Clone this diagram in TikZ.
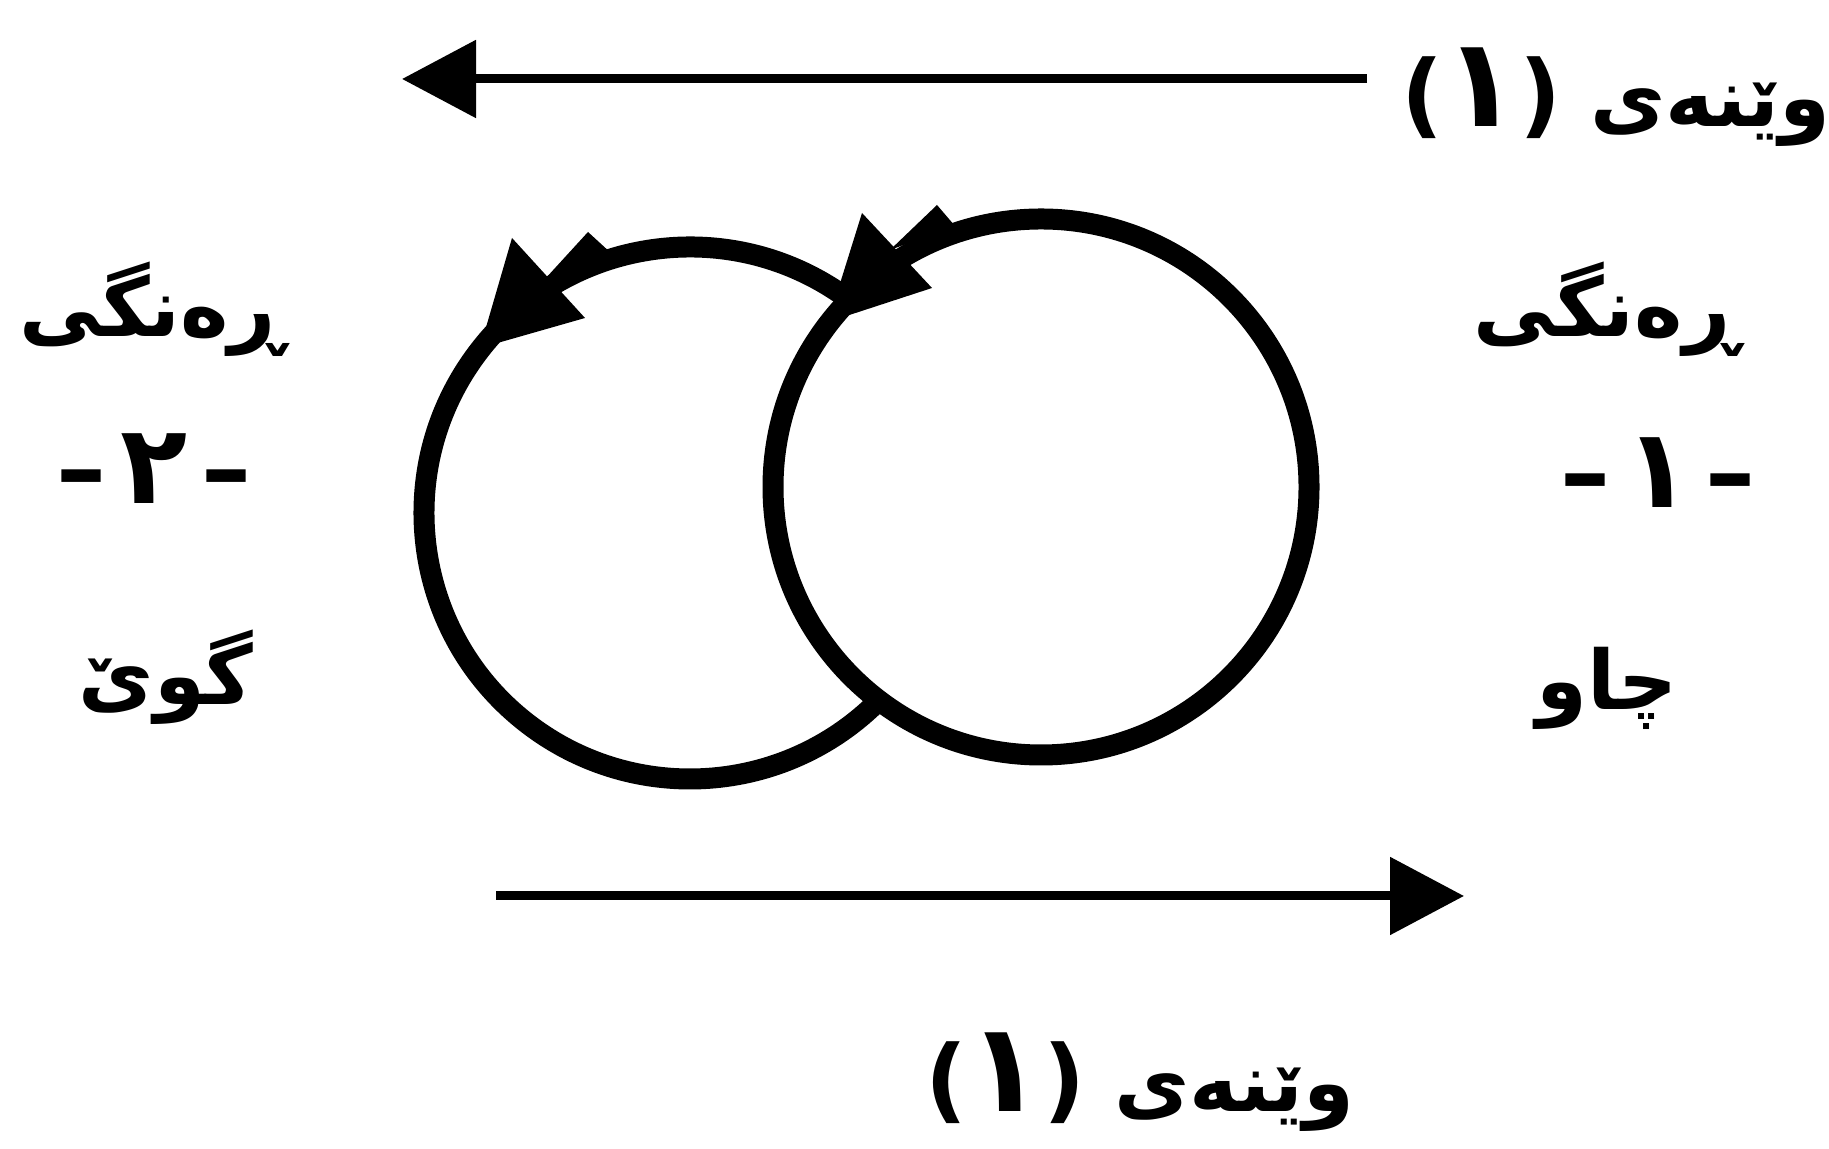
\documentclass[tikz,border=0pt]{standalone}
\usepackage{fontspec}
\usetikzlibrary{arrows.meta,calc}
\TeXXeTstate=1
\newfontfamily\kufont[Script=Arabic]{DejaVu Sans}
\newfontfamily\plainfont{DejaVu Sans}
\newcommand\kudig[1]{{\fontsize{62}{66}\selectfont #1}}
\newcommand\kunum[1]{{\fontsize{55}{60}\selectfont #1}}
\newcommand\kudash{{\plainfont\bfseries\fontsize{50}{56}\selectfont –}}
\newcommand\kuparen[1]{{\plainfont\bfseries\fontsize{46}{50}\selectfont #1}}
\begin{document}
\begin{tikzpicture}[x=0.5pt,y=0.5pt,
  ring/.style={line width=10.5pt,draw=black},
  flow/.style={line width=4.5pt,draw=black,-{Triangle[length=37pt,width=38pt]}},
  lbl/.style={font=\kufont\bfseries\fontsize{41}{48}\selectfont,inner sep=0pt},
  barb/.style={fill=black}]
\useasboundingbox[fill=white] (0,0) rectangle (1829,1149);
\coordinate (cL) at (690,636);
\coordinate (cR) at (1041,662);
% right ring
\draw[ring] (cR) circle[radius=268];
% left ring (open, hidden part inside the right ring)
\draw[ring] ($(cL)+(53:266)$) arc[start angle=53,end angle=315,radius=266];
% left arrowhead
\fill[barb] (512,911) -- (585,831) -- (480,801) -- cycle;
\fill[barb] (545,870) -- (588,917) -- (612,895) -- cycle;
% right arrowhead
\fill[barb] (862,936) -- (932,861) -- (828,827) -- cycle;
\fill[barb] (890,899) -- (937,944) -- (955,923) -- cycle;
% horizontal arrows
\coordinate (t1) at (1367,1070);
\coordinate (t2) at (402,1070);
\draw[flow] (t1) -- (t2);
\coordinate (b1) at (496,253);
\coordinate (b2) at (1464,253);
\draw[flow] (b1) -- (b2);
% labels
\node[lbl] (figtop) at (1616,1052) {\beginR وێنەی \beginL\kuparen{(}\kudig{١}\kuparen{)}\endL\endR};
\node[lbl] (figbot) at (1140,67) {\beginR وێنەی \beginL\kuparen{(}\kudig{١}\kuparen{)}\endL\endR};
\node[lbl] (rangL) at (152,840) {\beginR ڕەنگی\endR};
\node[lbl] (numL) at (154,680) {\beginL\kudash\,\kunum{٢}\,\kudash\endL};
\node[lbl] (earL) at (166,472) {\beginR گوێ\endR};
\node[lbl] (rangR) at (1606,840) {\beginR ڕەنگی\endR};
\node[lbl] (numR) at (1658,676) {\beginL\kudash\,\kunum{١}\,\kudash\endL};
\node[lbl] (eyeR) at (1607,461) {\beginR چاو\endR};
\end{tikzpicture}
\end{document}
